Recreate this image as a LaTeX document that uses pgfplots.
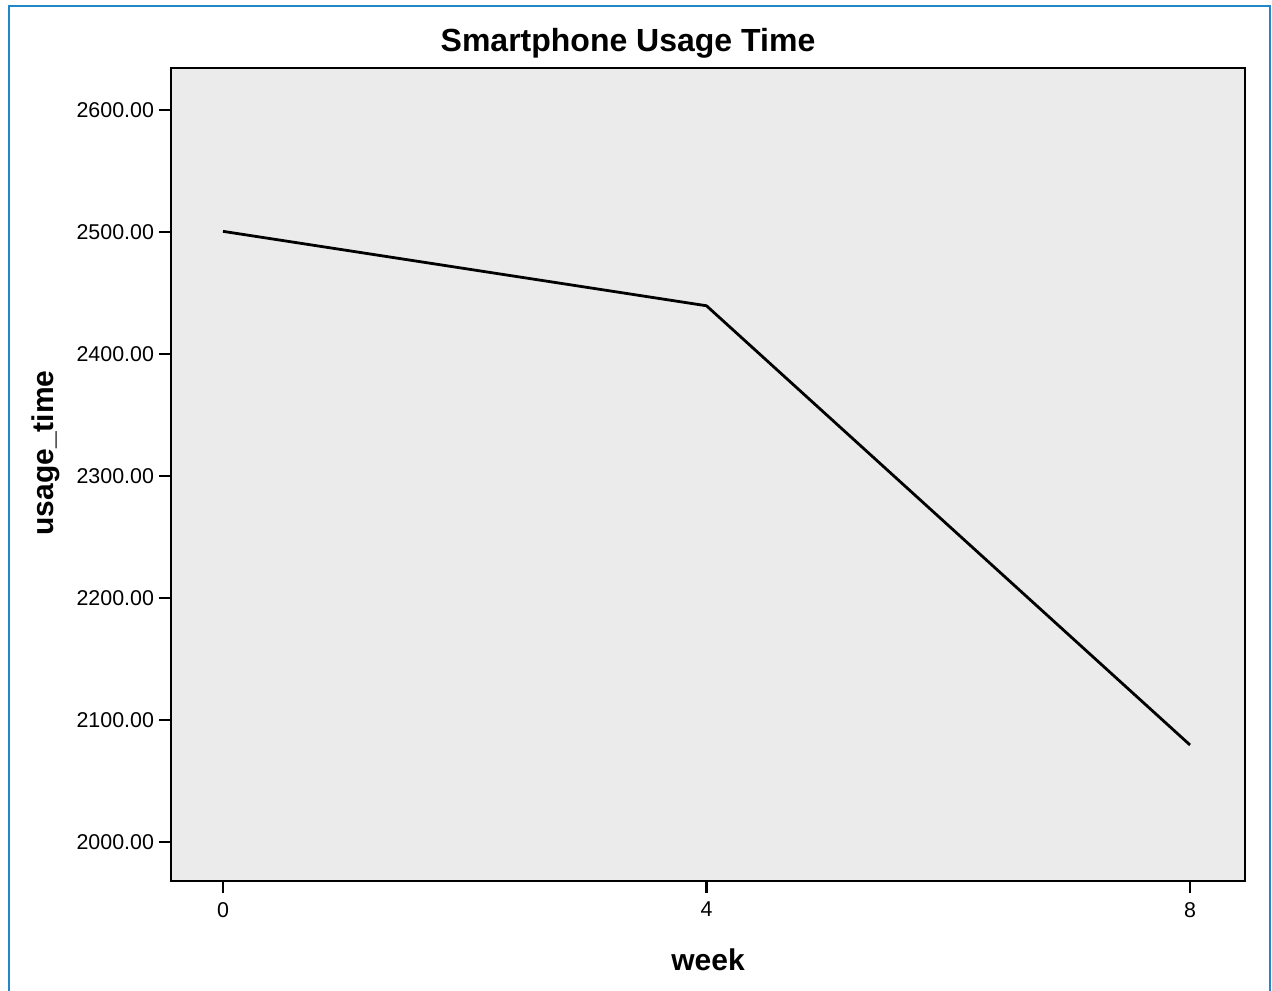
\documentclass[border=0pt]{standalone}
\usepackage{pgfplots}
\pgfplotsset{compat=1.18}
\usepackage{fontspec}
\setmainfont{Liberation Sans}
\definecolor{framebl}{RGB}{30,136,200}
\definecolor{plotbg}{RGB}{235,235,235}
\begin{document}
\begin{tikzpicture}
\useasboundingbox (0pt,0pt) rectangle (636pt,495pt);
\begin{axis}[
  at={(85.5pt,54.5pt)}, anchor=south west,
  scale only axis, width=537pt, height=406.5pt,
  xmin=-0.43, xmax=8.455, ymin=1968, ymax=2634.4,
  axis background/.style={fill=plotbg},
  axis line style={line width=1.2pt, black},
  tick align=outside, tick pos=left,
  major tick length=6pt,
  every tick/.style={line width=1.1pt, black},
  xtick={0,4,8}, ytick={2000,2100,...,2600},
  /pgf/number format/assume math mode=true,
  y tick label style={/pgf/number format/fixed, /pgf/number format/fixed zerofill, /pgf/number format/precision=2, /pgf/number format/1000 sep={}, /tikz/xshift=1pt},
  ticklabel style={font=\fontsize{10.7pt}{12pt}\selectfont},
  x tick label style={/tikz/yshift=-1pt},
]
\addplot[black, line width=1.4pt] coordinates {(0,2500.5) (4,2439.5) (8,2079.5)};
\end{axis}
\node[anchor=base, font=\fontsize{16pt}{18pt}\selectfont\bfseries] at (314pt,469pt) {Smartphone Usage Time};
\node[anchor=base, font=\fontsize{15pt}{17pt}\selectfont\bfseries] at (354pt,10pt) {week};
\node[anchor=base, rotate=90, font=\fontsize{15pt}{17pt}\selectfont\bfseries] at (26.5pt,268.5pt) {usage\_time};
\draw[framebl, line width=1pt] (4.25pt,-1pt) -- (4.25pt,492pt) -- (635pt,492pt) -- (635pt,-1pt);
\end{tikzpicture}
\end{document}
